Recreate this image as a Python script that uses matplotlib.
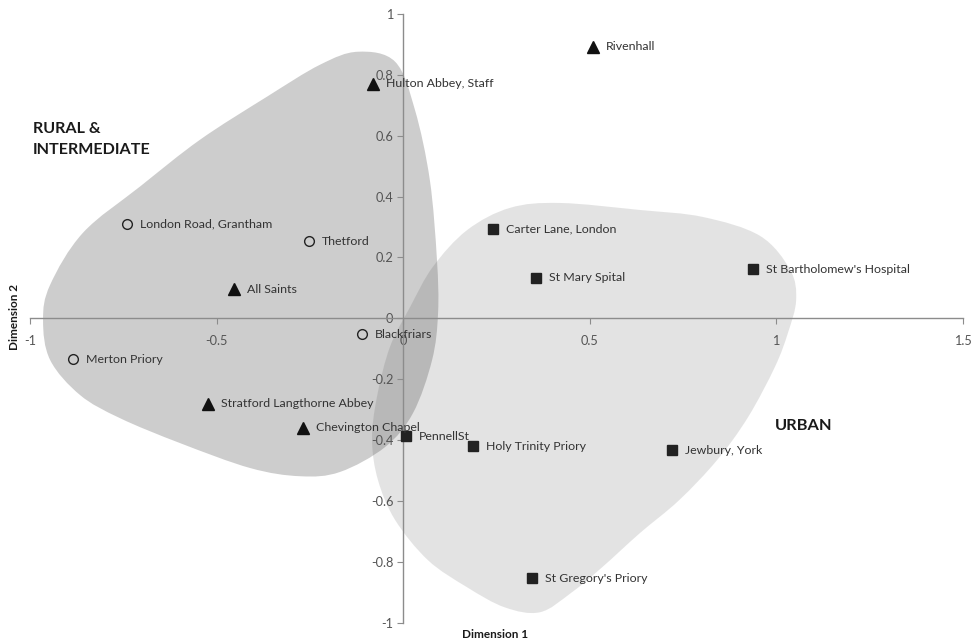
import numpy as np
import matplotlib
matplotlib.use("Agg")
import matplotlib.pyplot as plt
from matplotlib.path import Path
from matplotlib.patches import PathPatch

plt.rcParams['font.family'] = ['Lato', 'DejaVu Sans']

# ---------------- data ----------------
sites = ["Rivenhall", "Hulton Abbey, Staff", "London Road, Grantham", "Thetford",
         "All Saints", "Blackfriars", "Merton Priory", "Stratford Langthorne Abbey",
         "Chevington Chapel", "PennellSt", "Holy Trinity Priory", "Jewbury, York",
         "St Gregory's Priory", "Carter Lane, London", "St Mary Spital",
         "St Bartholomew's Hospital"]
dim1 = [0.509, -0.080, -0.740, -0.253, -0.453, -0.110, -0.885, -0.523,
        -0.268, 0.008, 0.188, 0.721, 0.346, 0.241, 0.357, 0.938]
dim2 = [0.892, 0.771, 0.310, 0.254, 0.095, -0.052, -0.134, -0.281,
        -0.360, -0.388, -0.420, -0.433, -0.854, 0.294, 0.133, 0.162]
site_type = ["tri", "tri", "circ", "circ", "tri", "circ", "circ", "tri",
             "tri", "sq", "sq", "sq", "sq", "sq", "sq", "sq"]

xticks = [-1, -0.5, 0, 0.5, 1, 1.5]
xticklabels = ["-1", "-0.5", "0", "0.5", "1", "1.5"]
yticks = [-1, -0.8, -0.6, -0.4, -0.2, 0, 0.2, 0.4, 0.6, 0.8, 1]
yticklabels = ["-1", "-0.8", "-0.6", "-0.4", "-0.2", "0", "0.2", "0.4", "0.6", "0.8", "1"]

# group outlines (decorative hulls, data units)
rural_x = [-0.121, -0.021, 0.032, 0.072, 0.091, 0.094, 0.078, 0.027, -0.048, -0.169,
           -0.276, -0.410, -0.598, -0.759, -0.866, -0.946, -0.965, -0.946, -0.858,
           -0.705, -0.544, -0.365, -0.223]
rural_y = [0.876, 0.843, 0.685, 0.454, 0.193, 0.017, -0.137, -0.311, -0.423, -0.505,
           -0.519, -0.492, -0.410, -0.328, -0.252, -0.137, -0.006, 0.110, 0.281,
           0.433, 0.587, 0.728, 0.833]
urban_x = [0.421, 0.635, 0.804, 0.957, 1.038, 1.054, 1.032, 0.997, 0.925, 0.842,
           0.740, 0.635, 0.534, 0.450, 0.367, 0.273, 0.172, 0.067, -0.021, -0.067,
           -0.083, -0.070, -0.035, 0.019, 0.080, 0.172, 0.287]
urban_y = [0.379, 0.356, 0.333, 0.271, 0.159, 0.060, -0.048, -0.160, -0.325, -0.466,
           -0.598, -0.706, -0.818, -0.903, -0.966, -0.950, -0.884, -0.795, -0.663,
           -0.532, -0.400, -0.259, -0.094, 0.037, 0.169, 0.290, 0.363]


def smooth_closed_path(xs, ys):
    P = np.column_stack([xs, ys])
    n = len(P)
    verts = [P[0]]
    codes = [Path.MOVETO]
    for i in range(n):
        p0, p1, p2, p3 = P[i - 1], P[i], P[(i + 1) % n], P[(i + 2) % n]
        c1 = p1 + (p2 - p0) / 6.0
        c2 = p2 - (p3 - p1) / 6.0
        verts += [c1, c2, p2]
        codes += [Path.CURVE4] * 3
    return Path(verts, codes)


fig = plt.figure(figsize=(9.75, 6.41), dpi=100)
ax = fig.add_axes([30 / 975, 18.4 / 641, 932.5 / 975, 608.6 / 641])
ax.set_xlim(-1, 1.5)
ax.set_ylim(-1, 1)

ax.add_patch(PathPatch(smooth_closed_path(urban_x, urban_y), facecolor="#3f3f3f",
                       edgecolor="none", alpha=0.14, zorder=1))
ax.add_patch(PathPatch(smooth_closed_path(rural_x, rural_y), facecolor="#3f3f3f",
                       edgecolor="none", alpha=0.26, zorder=1.1))

axis_col = "#8c8c8c"
for s in ["top", "right"]:
    ax.spines[s].set_visible(False)
ax.spines["left"].set_position(("data", 0))
ax.spines["bottom"].set_position(("data", 0))
for s in ["left", "bottom"]:
    ax.spines[s].set_color(axis_col)
    ax.spines[s].set_linewidth(1.0)
    ax.spines[s].set_zorder(2)

ax.set_xticks(xticks)
ax.set_xticklabels(xticklabels)
ax.set_yticks(yticks)
ax.set_yticklabels(yticklabels)
ax.tick_params(axis="both", direction="out", length=4, width=0.8, color=axis_col,
               labelsize=9.2, labelcolor="#555555")
ax.tick_params(axis="x", pad=8)
ax.tick_params(axis="y", pad=3)

styles = {
    "circ": dict(marker="o", markersize=7, markerfacecolor="none",
                 markeredgecolor="#222222", markeredgewidth=1.0),
    "tri": dict(marker="^", markersize=8, markerfacecolor="#111111",
                markeredgecolor="#111111"),
    "sq": dict(marker="s", markersize=7.5, markerfacecolor="#222222",
               markeredgecolor="#222222"),
}
for name, x, y, t in zip(sites, dim1, dim2, site_type):
    ax.plot([x], [y], linestyle="none", zorder=3, **styles[t])
    ax.annotate(name, (x, y), xytext=(9.5, 0), textcoords="offset points",
                ha="left", va="center", fontsize=8.9, color="#333333", zorder=4)

ax.text(-0.993, 0.588, "RURAL &\nINTERMEDIATE", fontsize=11.6, fontweight="bold",
        color="#1a1a1a", ha="left", va="center", linespacing=1.6)
ax.text(0.998, -0.355, "URBAN", fontsize=11.8, fontweight="bold",
        color="#1a1a1a", ha="left", va="center")

fig.text(495 / 975, 1 - 634 / 641, "Dimension 1", fontsize=8.5, fontweight="bold",
         ha="center", va="center", color="#1a1a1a")
fig.text(14 / 975, 1 - 317 / 641, "Dimension 2", fontsize=8.5, fontweight="bold",
         ha="center", va="center", rotation=90, color="#1a1a1a")

fig.savefig("out.png", dpi=100)
